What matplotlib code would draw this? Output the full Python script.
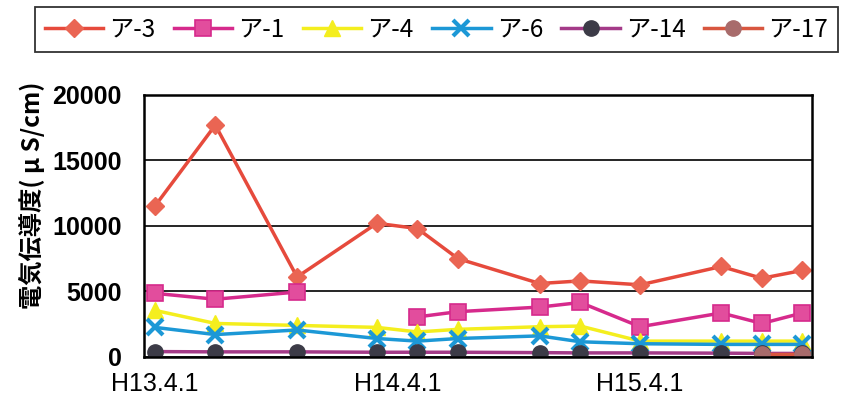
import matplotlib
matplotlib.use("Agg")
import matplotlib.pyplot as plt
import numpy as np
import pandas as pd

plt.rcParams['font.family'] = ['Liberation Sans', 'Noto Sans CJK JP', 'DejaVu Sans']

# sampling dates (first of month)
dates = pd.to_datetime(["2001-04-01", "2001-07-01", "2001-11-01", "2002-03-01",
                        "2002-05-01", "2002-07-01", "2002-11-01", "2003-01-01",
                        "2003-04-01", "2003-08-01", "2003-10-01", "2003-12-01"])

a3 = [11500, 17700, 6100, 10200, 9800, 7500, 5600, 5800, 5500, 6900, 6000, 6600]
a1 = [4850, 4400, 4950, np.nan, 3050, 3450, 3800, 4150, 2300, 3350, 2550, 3350]
a4 = [3550, 2550, 2400, 2250, 1900, 2100, 2300, 2350, 1200, 1200, 1200, 1200]
a6 = [2250, 1700, 2050, 1400, 1200, 1400, 1600, 1150, 1000, 950, 950, 950]
a14 = [400, 380, 380, 350, 350, 350, 320, 300, 300, 280, 260, 260]
a17 = [np.nan] * 10 + [200, 200]

series_names = ["ア-3", "ア-1", "ア-4", "ア-6", "ア-14", "ア-17"]
tick_dates = pd.to_datetime(["2001-04-01", "2002-04-01", "2003-04-01"])
tick_labels = ["H13.4.1", "H14.4.1", "H15.4.1"]
y_ticks = [0, 5000, 10000, 15000, 20000]

styles = [
    dict(color='#E64A3C', marker='D', ms=9.5, mfc='#EA6553', mec='#EA6553'),
    dict(color='#D62A8C', marker='s', ms=11, mfc='#E24D9D', mec='#D62A8C', mew=1.2),
    dict(color='#F4EE1E', marker='^', ms=11, mfc='#F4EE1E', mec='#F4EE1E'),
    dict(color='#1C98D6', marker='x', ms=12, mew=3),
    dict(color='#A43A88', marker='o', ms=11, mfc='#3C3B47', mec='#3C3B47'),
    dict(color='#D8563F', marker='o', ms=11, mfc='#A86B6B', mec='#A86B6B'),
]

fig = plt.figure(figsize=(8.48, 4.13), dpi=100)
ax = fig.add_axes([0.170, 0.136, 0.788, 0.634])

for name, vals, st in zip(series_names, [a3, a1, a4, a6, a14, a17], styles):
    ax.plot(dates, vals, lw=2.5, label=name, **st)

ax.set_ylim(0, 20000)
ax.set_yticks(y_ticks)
ax.set_xlim(pd.Timestamp("2001-03-16"), pd.Timestamp("2003-12-16"))
ax.set_xticks(tick_dates)
ax.set_xticklabels(tick_labels)
ax.tick_params(axis='both', length=0, labelsize=18)
ax.tick_params(axis='y', pad=16)
ax.tick_params(axis='x', pad=11)
for lbl in ax.get_yticklabels():
    lbl.set_fontweight('bold')

ax.grid(axis='y', color='black', lw=1.2)
ax.set_axisbelow(True)
for sp in ax.spines.values():
    sp.set_linewidth(1.8)
    sp.set_color('black')

fig.text(0.038, 0.527, "電気伝導度( μ S/cm)", rotation=90, ha='center', va='center',
         fontsize=17.5, fontweight='bold', family=['Noto Sans CJK JP', 'DejaVu Sans'])

leg = fig.legend(loc='lower left', bbox_to_anchor=(35 / 848, 1 - 52 / 413, 803 / 848, 44 / 413),
                 mode='expand', ncol=6, frameon=True, fancybox=False, handlelength=2.4,
                 handletextpad=0.25, borderaxespad=0, columnspacing=0.6,
                 prop={'family': ['Noto Sans CJK JP', 'DejaVu Sans'], 'size': 17.5})
leg.get_frame().set_edgecolor('black')
leg.get_frame().set_linewidth(1.3)

fig.savefig("out.png", dpi=100)
